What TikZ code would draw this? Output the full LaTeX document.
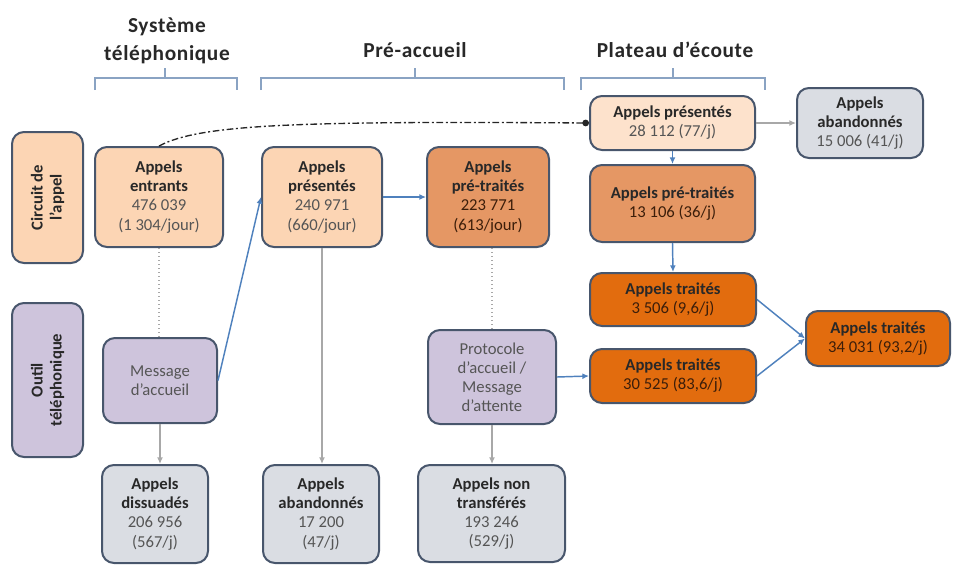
\documentclass[tikz,border=0pt]{standalone}
\usepackage{fontspec}
\setmainfont{Carlito}
\usetikzlibrary{arrows.meta}

\definecolor{peach}{RGB}{252,213,180}
\definecolor{peachlt}{RGB}{253,226,204}
\definecolor{orangemid}{RGB}{229,151,100}
\definecolor{orangedk}{RGB}{226,108,14}
\definecolor{greybox}{RGB}{218,221,227}
\definecolor{lilac}{RGB}{206,196,220}
\definecolor{boxline}{RGB}{72,86,108}
\definecolor{bluearr}{RGB}{79,129,189}
\definecolor{greyarr}{RGB}{168,168,168}
\definecolor{bracecol}{RGB}{138,163,195}
\definecolor{numtext}{RGB}{85,85,85}
\definecolor{ttltext}{RGB}{40,40,40}
\definecolor{darktext}{RGB}{60,30,10}

\newcommand{\ttl}[1]{\textcolor{ttltext}{\textbf{#1}}}

\tikzset{every picture/.style={line width=0.75pt}}
\tikzset{
  sz/.style 2 args={minimum width=#1*0.75pt, minimum height=#2*0.75pt},
  stage/.style={draw=boxline, line width=1.5pt, rounded corners=9pt, align=center,
    inner sep=1pt, text=numtext, font=\fontsize{12.5}{14.3}\selectfont},
  lane/.style={stage, rotate=90, text=ttltext, font=\fontsize{12.5}{14.3}\selectfont\bfseries},
  hdr/.style={align=center, text=ttltext, font=\fontsize{16}{21}\selectfont\bfseries\addfontfeature{LetterSpace=3}},
  brace/.style={draw=bracecol, line width=1pt},
  bluearrow/.style={draw=bluearr, line width=1.1pt, -{Latex[length=5pt,width=4.5pt]}},
  greyarrow/.style={draw=greyarr, line width=1pt, -{Latex[length=5pt,width=4.5pt]}},
  greydots/.style={draw=greyarr, line width=1pt, dotted},
}

\begin{document}
\begin{tikzpicture}[x=0.75pt,y=0.75pt,yscale=-1,xscale=1]
\useasboundingbox (0,0) rectangle (954,565);

%Headers
\node [hdr] (hsys) at (167,41) {Système\\téléphonique} ;
\node [hdr] (hpre) at (415,50) {Pré-accueil} ;
\node [hdr] (hpla) at (675,50) {Plateau d’écoute} ;
%Braces
\draw [brace] (95,90) -- (95,78) -- (237,78) -- (237,90) (165,78) -- (165,68) ;
\draw [brace] (261,90) -- (261,78) -- (564,78) -- (564,90) (415,78) -- (415,68) ;
\draw [brace] (581,90) -- (581,78) -- (765,78) -- (765,90) (673,78) -- (673,68) ;

%Lanes
\node [lane, fill=peach, sz={131}{71}] (circ) at (47.5,197.5) {Circuit de\\l’appel} ;
\node [lane, fill=lilac, sz={154}{71}] (outil) at (47.5,380) {Outil\\téléphonique} ;

%Système téléphonique
\node [stage, fill=peach, sz={128}{100}] (entr) at (159,197) {\ttl{Appels}\\\ttl{entrants}\\476 039\\(1 304/jour)} ;
\node [stage, fill=lilac, sz={114}{85}] (msg) at (160,380.5) {Message\\d’accueil} ;
\node [stage, fill=greybox, sz={106}{98}] (diss) at (155,514) {\ttl{Appels}\\\ttl{dissuadés}\\206 956\\(567/j)} ;

%Pré-accueil
\node [stage, fill=peach, sz={120}{100}] (pres) at (322,197) {\ttl{Appels}\\\ttl{présentés}\\240 971\\(660/jour)} ;
\node [stage, fill=orangemid, text=darktext, sz={122}{100}] (pretr) at (488,197) {\ttl{Appels}\\\ttl{pré-traités}\\223 771\\(613/jour)} ;
\node [stage, fill=lilac, sz={128}{94}] (prot) at (492,377) {Protocole\\d’accueil /\\Message\\d’attente} ;
\node [stage, fill=greybox, sz={116}{98}] (aban) at (321,514) {\ttl{Appels}\\\ttl{abandonnés}\\17 200\\(47/j)} ;
\node [stage, fill=greybox, sz={147}{97}] (nontr) at (491.5,513.5) {\ttl{Appels non}\\\ttl{transférés}\\193 246\\(529/j)} ;

%Plateau d'écoute
\node [stage, fill=peachlt, sz={165}{54}] (plpres) at (672.5,123) {\ttl{Appels présentés}\\28 112 (77/j)} ;
\node [stage, fill=greybox, sz={126}{70}] (plab) at (860,123) {\ttl{Appels}\\\ttl{abandonnés}\\15 006 (41/j)} ;
\node [stage, fill=orangemid, text=darktext, sz={165}{77}] (plpretr) at (672.5,203.5) {\ttl{Appels pré-traités}\\13 106 (36/j)} ;
\node [stage, fill=orangedk, text=darktext, sz={166}{53}] (tr1) at (673,299.5) {\ttl{Appels traités}\\3 506 (9,6/j)} ;
\node [stage, fill=orangedk, text=darktext, sz={166}{54}] (tr2) at (673,376) {\ttl{Appels traités}\\30 525 (83,6/j)} ;
\node [stage, fill=orangedk, text=darktext, sz={144}{55}] (tot) at (878,338.5) {\ttl{Appels traités}\\34 031 (93,2/j)} ;

%Connectors
\draw [line width=1pt, draw=black!85, dash pattern=on 5pt off 2pt on 1.5pt off 2pt, -{Circle[length=5pt]}]
  (entr.north) .. controls (200,124) and (300,121) .. (plpres.west) ;
\draw [greydots] (entr.south) -- (entr.south |- msg.north) ;
\draw [greyarrow] (msg.south) -- (msg.south |- diss.north) ;
\draw [bluearrow] (msg.east) -- (pres.west) ;
\draw [bluearrow] (pres.east) -- (pretr.west) ;
\draw [greyarrow] (pres.south) -- (pres.south |- aban.north) ;
\draw [greydots] (prot.north |- pretr.south) -- (prot.north) ;
\draw [greyarrow] (prot.south) -- (prot.south |- nontr.north) ;
\draw [bluearrow] (prot.east) -- (tr2.west) ;
\draw [greyarrow] (plpres.east) -- (plab.west) ;
\draw [bluearrow] (plpres.south) -- (plpretr.north) ;
\draw [bluearrow] (plpretr.south) -- (tr1.north) ;
\draw [bluearrow] (tr1.east) -- (tot.west) ;
\draw [bluearrow] (tr2.east) -- (tot.west) ;
\end{tikzpicture}
\end{document}
